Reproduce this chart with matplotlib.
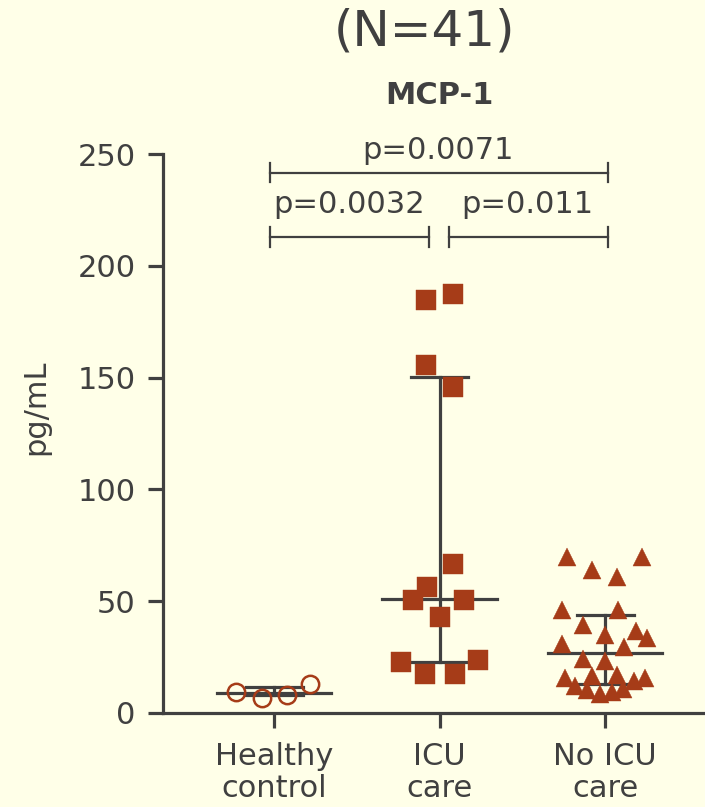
import matplotlib
matplotlib.use('Agg')
import matplotlib.pyplot as plt

# groups and values (pg/mL)
groups = ['Healthy\ncontrol', 'ICU\ncare', 'No ICU\ncare']

healthy = [9.5, 6.6, 8.1, 13.0]
icu = [184.7, 187.4, 155.6, 145.8, 66.6, 56.4, 50.5, 50.5, 42.9, 22.8, 17.4, 17.4, 23.7]
no_icu = [69.9, 69.9, 64.0, 61.0, 46.1, 46.1, 39.5, 34.7, 36.8, 33.5, 30.9, 29.4,
          24.3, 23.1, 15.7, 16.5, 17.1, 15.7, 12.1, 10.3, 14.2, 8.4, 9.4, 10.7]

# median with interquartile range per group: (low, median, high)
summary = [(7.9, 8.8, 11.5), (22.9, 51.0, 150.1), (13.1, 26.8, 44.0)]

# p-values: (group a, group b, text)
pvals = [(0, 2, 'p=0.0071'), (0, 1, 'p=0.0032'), (1, 2, 'p=0.011')]

# horizontal scatter of the points (layout only)
healthy_jit = [-0.23, -0.074, 0.077, 0.22]
icu_jit = [-0.079, 0.079, -0.079, 0.079, 0.079, -0.073, -0.163, 0.145, 0.0, -0.230, -0.085, 0.091, 0.230]
no_icu_jit = [-0.231, 0.225, -0.077, 0.074, -0.258, 0.079, -0.131, -0.002, 0.187, 0.252, -0.258, 0.113,
              -0.131, 0.0, -0.244, -0.080, 0.074, 0.242, -0.181, -0.111, 0.175, -0.030, 0.044, 0.111]

bg = '#FFFFE8'
ink = '#404040'
red = '#A63C18'

plt.rcParams['font.family'] = 'DejaVu Sans'
fig = plt.figure(figsize=(7.05, 8.07), dpi=100, facecolor=bg)
ax = fig.add_axes([163/705, 1-713/807, 1-163/705, (713-154)/807])
ax.set_facecolor(bg)

# error bars (median + IQR)
for i, (lo, med, hi) in enumerate(summary):
    ax.plot([i, i], [lo, hi], color=ink, lw=2.3, zorder=2)
    ax.plot([i-0.172, i+0.172], [lo, lo], color=ink, lw=2.3, zorder=2)
    ax.plot([i-0.172, i+0.172], [hi, hi], color=ink, lw=2.3, zorder=2)
    ax.plot([i-0.347, i+0.347], [med, med], color=ink, lw=2.3, zorder=2)

ax.plot([0 + j for j in healthy_jit], healthy, 'o', ms=12.5, mfc='none', mec=red, mew=1.8,
        zorder=3, clip_on=False)
ax.plot([1 + j for j in icu_jit], icu, 's', ms=13.8, mfc=red, mec=red, mew=0.3, zorder=3, clip_on=False)
ax.plot([2 + j for j in no_icu_jit], no_icu, '^', ms=13.5, mfc=red, mec=red, mew=0.3, zorder=3, clip_on=False)

# significance brackets
def bracket(x0, x1, y, h, label, tx, ty):
    ax.plot([x0, x1], [y, y], color=ink, lw=1.6, clip_on=False)
    ax.plot([x0, x0], [y-h, y+h], color=ink, lw=1.6, clip_on=False)
    ax.plot([x1, x1], [y-h, y+h], color=ink, lw=1.6, clip_on=False)
    ax.text(tx, ty, label, ha='center', va='baseline', fontsize=22, color=ink)

bracket(-0.024, 2.018, 241.6, 4.2, pvals[0][2], 0.988, 247.8)
bracket(-0.024, 0.937, 213.0, 4.4, pvals[1][2], 0.456, 223.6)
bracket(1.057, 2.018, 213.0, 4.4, pvals[2][2], 1.529, 223.6)

ax.set_xlim(-0.671, 2.604)
ax.set_ylim(0, 250)
ax.set_yticks([0, 50, 100, 150, 200, 250])
ax.set_xticks(range(3))
ax.set_xticklabels(groups, linespacing=1.12)
for s in ['top', 'right']:
    ax.spines[s].set_visible(False)
for s in ['left', 'bottom']:
    ax.spines[s].set_color(ink)
    ax.spines[s].set_linewidth(2.3)
ax.tick_params(axis='both', length=10.8, width=2.3, color=ink, labelcolor=ink, labelsize=22)
ax.tick_params(axis='y', pad=9)
ax.tick_params(axis='x', pad=10)

fig.text(36/705, 1-407/807, 'pg/mL', rotation=90, ha='center', va='center', fontsize=22, color=ink)
fig.text(424/705, 1-31/807, '(N=41)', ha='center', va='center', fontsize=36, color=ink)
fig.text(439/705, 1-96/807, 'MCP-1', ha='center', va='center', fontsize=22, fontweight='bold', color=ink)

fig.savefig('out.png', dpi=100, facecolor=bg)
